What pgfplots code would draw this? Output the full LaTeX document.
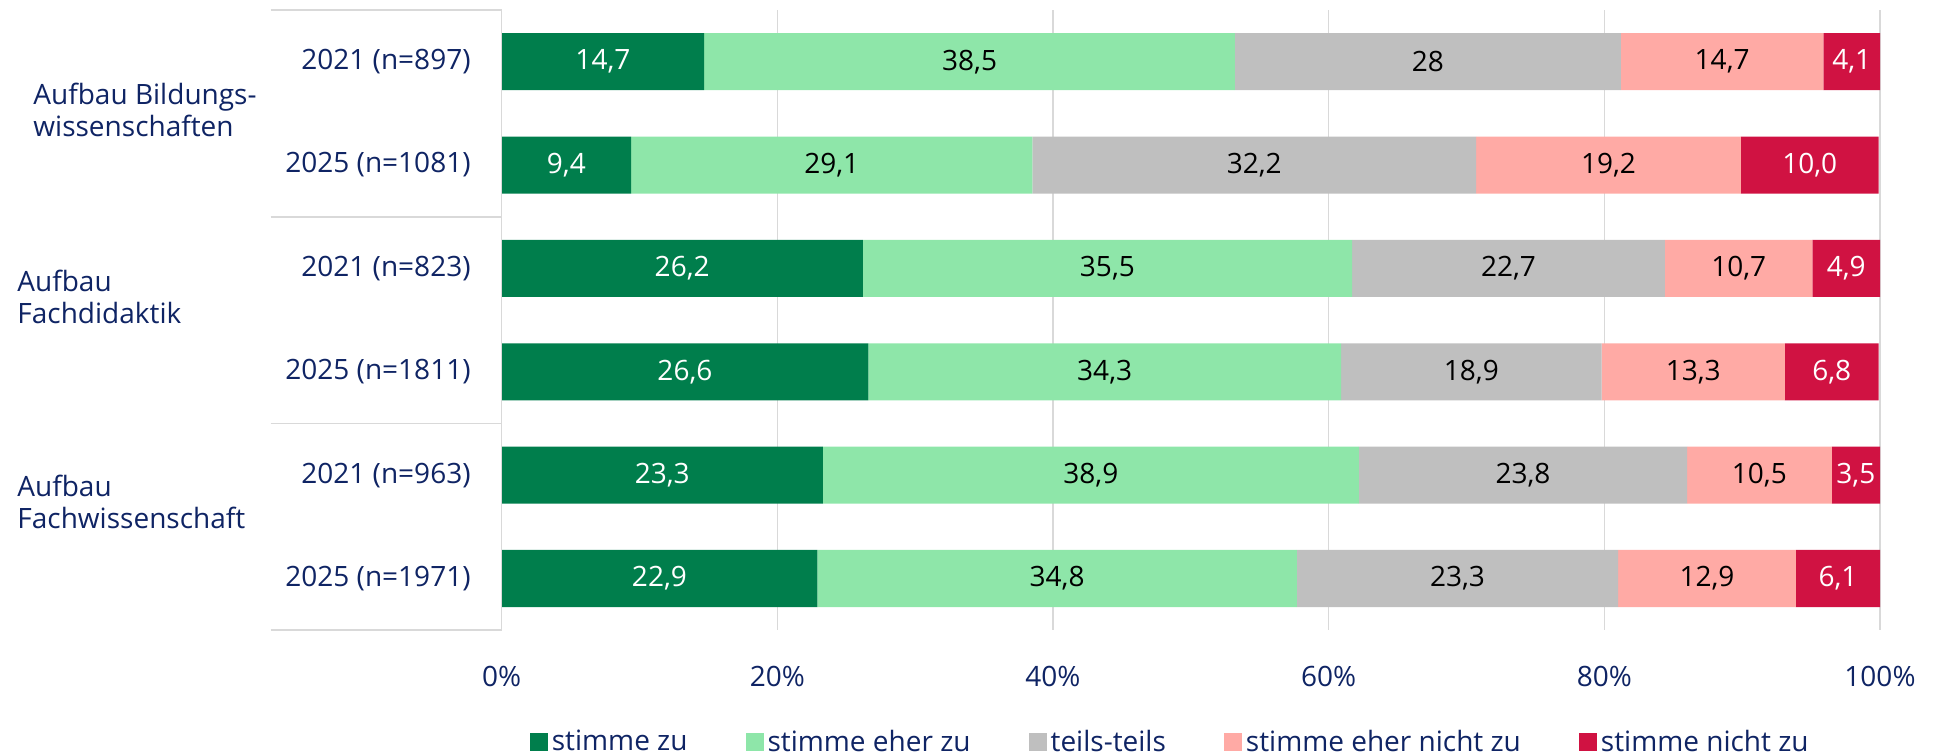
\documentclass[border=0pt]{standalone}
\usepackage{fontspec}
\setmainfont{Open Sans}
\usepackage{pgfplots}
\usepackage{pgfplotstable}
\pgfplotsset{compat=1.18}

\definecolor{dgreen}{HTML}{007E4C}
\definecolor{lgreen}{HTML}{8EE6A9}
\definecolor{midgray}{HTML}{BFBFBF}
\definecolor{lpink}{HTML}{FFAAA5}
\definecolor{dred}{HTML}{D01242}
\definecolor{navy}{HTML}{0F2464}
\definecolor{gridgray}{HTML}{D9D9D9}

% rows top to bottom: 0 = 2021 Bildungsw., ..., 5 = 2025 Fachwiss.
\pgfplotstableread{
y a    la   b    lb   c    lc   d    ld   e    le
0 14.7 14,7 38.5 38,5 28.0 28   14.7 14,7 4.1  4,1
1 9.4  9,4  29.1 29,1 32.2 32,2 19.2 19,2 10.0 10,0
2 26.2 26,2 35.5 35,5 22.7 22,7 10.7 10,7 4.9  4,9
3 26.6 26,6 34.3 34,3 18.9 18,9 13.3 13,3 6.8  6,8
4 23.3 23,3 38.9 38,9 23.8 23,8 10.5 10,5 3.5  3,5
5 22.9 22,9 34.8 34,8 23.3 23,3 12.9 12,9 6.1  6,1
}\answers

\begin{document}
\begin{tikzpicture}[font=\fontsize{14}{16}\selectfont]
\useasboundingbox (-250.75pt,-62.5pt) rectangle (717.5pt,315pt);
\begin{axis}[
    at={(0,0)}, anchor=south west,
    scale only axis, width=689pt, height=310pt,
    xbar stacked, bar width=28.5pt,
    xmin=0, xmax=100, ymin=-0.5, ymax=5.5, y dir=reverse,
    ytick={0,...,5},
    yticklabels={2021 (n=897),2025 (n=1081),2021 (n=823),2025 (n=1811),2021 (n=963),2025 (n=1971)},
    xtick={0,20,...,100},
    /pgf/number format/assume math mode=true,
    xticklabel={\pgfmathprintnumber{\tick}\%},
    xticklabel style={anchor=center, yshift=-23pt, text=navy},
    yticklabel style={anchor=east, xshift=-12pt, text=navy},
    axis line style={draw=none},
    tick style={draw=none},
    xmajorgrids, grid style={gridgray, line width=0.8pt},
    point meta=explicit symbolic,
    nodes near coords,
    legend columns=5,
    legend style={at={(0.4858,-0.1806)}, anchor=center, draw=none, text=navy,
        /tikz/every even column/.append style={column sep=27pt}},
    legend image code/.code={\fill[#1] (0pt,-4.5pt) rectangle (9pt,4.5pt);},
]
\addplot[fill=dgreen, draw=none, every node near coord/.append style={text=white}]
    table[x=a, y=y, meta=la] {\answers};
\addplot[fill=lgreen, draw=none, every node near coord/.append style={text=black}]
    table[x=b, y=y, meta=lb] {\answers};
\addplot[fill=midgray, draw=none, every node near coord/.append style={text=black}]
    table[x=c, y=y, meta=lc] {\answers};
\addplot[fill=lpink, draw=none, every node near coord/.append style={text=black}]
    table[x=d, y=y, meta=ld] {\answers};
\addplot[fill=dred, draw=none, every node near coord/.append style={text=white}]
    table[x=e, y=y, meta=le] {\answers};
\legend{stimme zu, stimme eher zu, teils-teils, stimme eher nicht zu, stimme nicht zu}
\end{axis}
% category frame on the left
\draw[gridgray, line width=0.8pt] (0pt,0pt) -- (0pt,310pt);
\foreach \yy in {0,103.33,206.67,310}
    \draw[gridgray, line width=0.8pt] (-115.5pt,\yy pt) -- (0pt,\yy pt);
\node[anchor=west, align=left, text=navy, inner sep=0pt] at (-234.25pt,260pt) {Aufbau Bildungs-\\wissenschaften};
\node[anchor=west, align=left, text=navy, inner sep=0pt] at (-242.25pt,166.75pt) {Aufbau\\Fachdidaktik};
\node[anchor=west, align=left, text=navy, inner sep=0pt] at (-242.25pt,64.25pt) {Aufbau\\Fachwissenschaft};
\end{tikzpicture}
\end{document}
